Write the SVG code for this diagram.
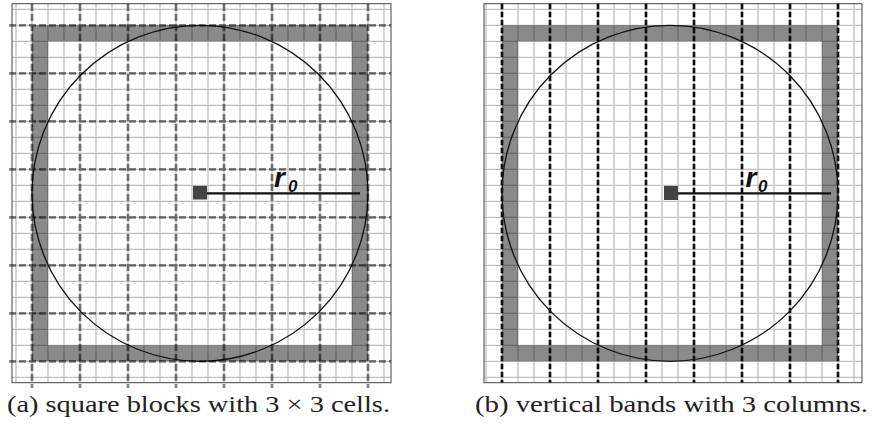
<svg xmlns="http://www.w3.org/2000/svg" width="875" height="426" viewBox="0 0 875 426">
<style>
.bg{fill:#fff}
.band{fill:#8a8a8a;fill-rule:evenodd}
.grid{fill:none;stroke:#000;stroke-opacity:0.25;stroke-width:1.3}
.frame{fill:none;stroke:#444;stroke-width:1}
.dashA{fill:none;stroke:#000;stroke-opacity:0.48;stroke-width:2.8;stroke-dasharray:7 3}
.dashB{fill:none;stroke:#111;stroke-width:2.7;stroke-dasharray:5.5 2.5}
.circ{fill:none;stroke:#111;stroke-width:1.3}
.rad{stroke:#111;stroke-width:2.3}
.ctr{fill:#444}
.lbl{font-weight:bold;font-style:italic;fill:#111}
.cap{font-size:24px;fill:#222}
</style>
<rect class="bg" x="0" y="0" width="875" height="426"/>

<g id="panel-a">
  <path class="band" d="M32 25.3H368V361.3H32Z M48 41.3V345.3H352V41.3Z"/>
  <path class="grid" d="M16 3.7V382.7M32 3.7V382.7M48 3.7V382.7M64 3.7V382.7M80 3.7V382.7M96 3.7V382.7M112 3.7V382.7M128 3.7V382.7M144 3.7V382.7M160 3.7V382.7M176 3.7V382.7M192 3.7V382.7M208 3.7V382.7M224 3.7V382.7M240 3.7V382.7M256 3.7V382.7M272 3.7V382.7M288 3.7V382.7M304 3.7V382.7M320 3.7V382.7M336 3.7V382.7M352 3.7V382.7M368 3.7V382.7M384 3.7V382.7
  M12 9.3H391M12 25.3H391M12 41.3H391M12 57.3H391M12 73.3H391M12 89.3H391M12 105.3H391M12 121.3H391M12 137.3H391M12 153.3H391M12 169.3H391M12 185.3H391M12 201.3H391M12 217.3H391M12 233.3H391M12 249.3H391M12 265.3H391M12 281.3H391M12 297.3H391M12 313.3H391M12 329.3H391M12 345.3H391M12 361.3H391M12 377.3H391"/>
  <rect class="frame" x="12" y="3.7" width="379" height="379"/>
  <circle class="circ" cx="200" cy="193.3" r="168"/>
  <path class="dashA" d="M32 4V388M80 4V388M128 4V388M176 4V388M224 4V388M272 4V388M320 4V388M368 4V388
  M9 25.3H391M9 73.3H391M9 121.3H391M9 169.3H391M9 217.3H391M9 265.3H391M9 313.3H391M9 361.3H391"/>
  <line class="rad" x1="200" y1="193.3" x2="360" y2="193.3"/>
  <rect class="ctr" x="193" y="186" width="14" height="13.5"/>
  <text class="lbl" font-family="'Liberation Sans', Arial, sans-serif" x="274" y="187" font-size="28">r<tspan x="288" y="191.5" font-size="17">0</tspan></text>
  <text class="cap" font-family="'Liberation Serif', 'Times New Roman', serif" x="7" y="411.5" textLength="383" lengthAdjust="spacingAndGlyphs">(a) square blocks with 3 × 3 cells.</text>
</g>

<g id="panel-b">
  <path class="band" d="M502 25.3H838V361.3H502Z M518 41.3V345.3H822V41.3Z"/>
  <path class="grid" d="M486 3.7V382.7M502 3.7V382.7M518 3.7V382.7M534 3.7V382.7M550 3.7V382.7M566 3.7V382.7M582 3.7V382.7M598 3.7V382.7M614 3.7V382.7M630 3.7V382.7M646 3.7V382.7M662 3.7V382.7M678 3.7V382.7M694 3.7V382.7M710 3.7V382.7M726 3.7V382.7M742 3.7V382.7M758 3.7V382.7M774 3.7V382.7M790 3.7V382.7M806 3.7V382.7M822 3.7V382.7M838 3.7V382.7M854 3.7V382.7
  M484 9.3H862M484 25.3H862M484 41.3H862M484 57.3H862M484 73.3H862M484 89.3H862M484 105.3H862M484 121.3H862M484 137.3H862M484 153.3H862M484 169.3H862M484 185.3H862M484 201.3H862M484 217.3H862M484 233.3H862M484 249.3H862M484 265.3H862M484 281.3H862M484 297.3H862M484 313.3H862M484 329.3H862M484 345.3H862M484 361.3H862M484 377.3H862"/>
  <rect class="frame" x="484" y="3.7" width="378" height="379"/>
  <circle class="circ" cx="670" cy="193.3" r="168"/>
  <path class="dashB" d="M502 3.7V382.7M550 3.7V382.7M598 3.7V382.7M646 3.7V382.7M694 3.7V382.7M742 3.7V382.7M790 3.7V382.7M838 3.7V382.7"/>
  <line class="rad" x1="670" y1="193.3" x2="831" y2="193.3"/>
  <rect class="ctr" x="664" y="186" width="14" height="14"/>
  <text class="lbl" font-family="'Liberation Sans', Arial, sans-serif" x="745.5" y="187" font-size="28">r<tspan x="758" y="191.5" font-size="17">0</tspan></text>
  <text class="cap" font-family="'Liberation Serif', 'Times New Roman', serif" x="475" y="412" textLength="393" lengthAdjust="spacingAndGlyphs">(b) vertical bands with 3 columns.</text>
</g>
</svg>
